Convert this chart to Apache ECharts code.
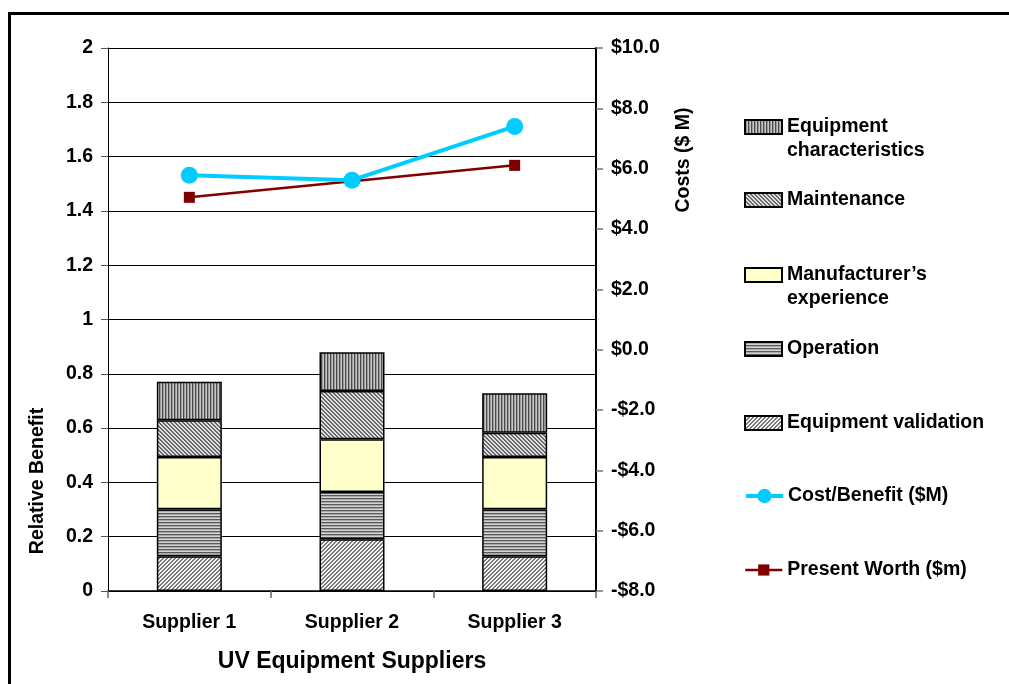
<!DOCTYPE html>
<html>
<head>
<meta charset="utf-8">
<script src="https://cdn.jsdelivr.net/npm/echarts@6/dist/echarts.min.js"></script>
<style>
html,body{margin:0;padding:0;background:#fff;}
#chart{width:1009px;height:684px;}
</style>
</head>
<body>
<div id="chart"></div>
<script>
// ---- data ----
var categories = ['Supplier 1', 'Supplier 2', 'Supplier 3'];
var equipmentValidation = [0.128, 0.191, 0.128];
var operation = [0.173, 0.174, 0.173];
var manufacturerExperience = [0.193, 0.194, 0.193];
var maintenance = [0.135, 0.178, 0.089];
var equipmentCharacteristics = [0.142, 0.142, 0.145];
var costBenefit = [5.78, 5.62, 7.40];
var presentWorth = [5.05, 5.58, 6.11];
var leftAxisRange = [0, 2, 0.2];
var rightAxisRange = [-8, 10, 2];

// ---- patterns ----
function makePattern(w, h, fn) {
  var c = document.createElement('canvas');
  c.width = w; c.height = h;
  var ctx = c.getContext('2d');
  for (var y = 0; y < h; y++) {
    for (var x = 0; x < w; x++) {
      ctx.fillStyle = fn(x, y);
      ctx.fillRect(x, y, 1, 1);
    }
  }
  return { image: c, repeat: 'repeat' };
}
var patVertical = makePattern(3, 3, function (x) { return ['#4a4a4a', '#9a9a9a', '#c8c8c8'][x]; });
var patHorizontal = makePattern(3, 3, function (x, y) { return ['#5a5a5a', '#a8a8a8', '#d4d4d4'][y]; });
var patMaint = makePattern(4, 4, function (x, y) { return ((x - y + 8) % 4 < 2) ? '#6a6a6a' : '#e0e0e0'; });
var patValid = makePattern(4, 4, function (x, y) { return ((x + y) % 4 < 2) ? '#7a7a7a' : '#f4f4f4'; });

var FONT = 'Liberation Sans, Arial, sans-serif';
var FS = 19.5;

function barSeries(name, data, color) {
  return {
    name: name, type: 'bar', stack: 'benefit', data: data, barWidth: 65,
    yAxisIndex: 0,
    itemStyle: { color: color, borderColor: '#000', borderWidth: 1.5 },
    emphasis: { disabled: true }
  };
}

function legendAt(name, top, extra) {
  var l = {
    data: [{ name: name, icon: extra && extra.icon ? extra.icon : 'rect' }],
    left: 744, top: top, itemWidth: 37, itemHeight: 14,
    itemGap: 0, padding: 0, selectedMode: false,
    formatter: function (n) {
      if (n === 'Equipment characteristics') return ' \nEquipment\ncharacteristics';
      if (n === 'Manufacturer\u2019s experience') return ' \nManufacturer\u2019s\nexperience';
      return n;
    },
    textStyle: { fontFamily: FONT, fontWeight: 'bold', fontSize: FS, color: '#000', lineHeight: 24 }
  };
  if (extra) {
    if (extra.itemHeight) l.itemHeight = extra.itemHeight;
    if (extra.lineWidth) l.lineStyle = { width: extra.lineWidth };
    if (extra.icon === undefined) delete l.data[0].icon;
    l.data[0] = extra.keepIcon ? l.data[0] : { name: name };
  }
  return l;
}

var chart = echarts.init(document.getElementById('chart'), null, { renderer: 'canvas' });
chart.setOption({
  animation: false,
  backgroundColor: '#fff',
  grid: { left: 108, right: 413, top: 48, bottom: 93, containLabel: false },
  legend: [
    legendAt('Equipment characteristics', 127 - 36),
    legendAt('Maintenance', 200 - 12),
    legendAt('Manufacturer\u2019s experience', 275 - 36),
    legendAt('Operation', 349 - 12),
    legendAt('Equipment validation', 423 - 12),
    legendAt('Cost/Benefit ($M)', 496 - 12, { itemHeight: 18, lineWidth: 4 }),
    legendAt('Present Worth ($m)', 570 - 12, { itemHeight: 14, lineWidth: 2.5 })
  ],
  xAxis: {
    type: 'category', data: categories,
    axisLine: { lineStyle: { color: '#000', width: 1.5 } },
    axisTick: { show: true, length: 7, lineStyle: { color: '#666', width: 1.5 } },
    axisLabel: { margin: 22, fontFamily: FONT, fontWeight: 'bold', fontSize: FS, color: '#000' },
    name: 'UV Equipment Suppliers', nameLocation: 'middle', nameGap: 59,
    nameTextStyle: { fontFamily: FONT, fontWeight: 'bold', fontSize: 23, color: '#000' }
  },
  yAxis: [
    {
      type: 'value', min: leftAxisRange[0], max: leftAxisRange[1], interval: leftAxisRange[2],
      axisLine: { show: true, lineStyle: { color: '#000', width: 1 } },
      axisTick: { show: true, length: 7, lineStyle: { color: '#555' } },
      axisLabel: { margin: 15, fontFamily: FONT, fontWeight: 'bold', fontSize: FS, color: '#000',
        formatter: function (v) { return String(Math.round(v * 10) / 10); } },
      splitLine: { show: true, lineStyle: { color: '#000', width: 1 } }
    },
    {
      type: 'value', min: rightAxisRange[0], max: rightAxisRange[1], interval: rightAxisRange[2],
      position: 'right',
      axisLine: { show: true, lineStyle: { color: '#000', width: 2 } },
      axisTick: { show: true, length: 7, lineStyle: { color: '#777', width: 1.5 } },
      axisLabel: { margin: 15, fontFamily: FONT, fontWeight: 'bold', fontSize: FS, color: '#000',
        formatter: function (v) { return (v < 0 ? '-$' : '$') + Math.abs(v).toFixed(1); } },
      splitLine: { show: false }
    }
  ],
  series: [
    barSeries('Equipment validation', equipmentValidation, patValid),
    barSeries('Operation', operation, patHorizontal),
    barSeries('Manufacturer\u2019s experience', manufacturerExperience, '#FFFFCC'),
    barSeries('Maintenance', maintenance, patMaint),
    barSeries('Equipment characteristics', equipmentCharacteristics, patVertical),
    {
      name: 'Present Worth ($m)', type: 'line', yAxisIndex: 1, data: presentWorth,
      symbol: 'rect', symbolSize: 11,
      lineStyle: { color: '#800000', width: 2.5 }, itemStyle: { color: '#800000' },
      emphasis: { disabled: true }, z: 3
    },
    {
      name: 'Cost/Benefit ($M)', type: 'line', yAxisIndex: 1, data: costBenefit,
      symbol: 'circle', symbolSize: 17,
      lineStyle: { color: '#00CCFF', width: 4 }, itemStyle: { color: '#00CCFF' },
      emphasis: { disabled: true }, z: 4
    }
  ],
  graphic: [
    { type: 'rect', left: 7, top: 11, shape: { width: 1200, height: 900 }, style: { fill: 'none', stroke: '#000', lineWidth: 3 }, silent: true },
    { type: 'text', x: 38, y: 481, rotation: Math.PI / 2,
      style: { text: 'Relative Benefit', fontFamily: FONT, fontWeight: 'bold', fontSize: FS, fill: '#000', align: 'center', verticalAlign: 'middle' } },
    { type: 'text', x: 684, y: 160, rotation: Math.PI / 2,
      style: { text: 'Costs ($ M)', fontFamily: FONT, fontWeight: 'bold', fontSize: FS, fill: '#000', align: 'center', verticalAlign: 'middle' } }
  ]
});
</script>
</body>
</html>
